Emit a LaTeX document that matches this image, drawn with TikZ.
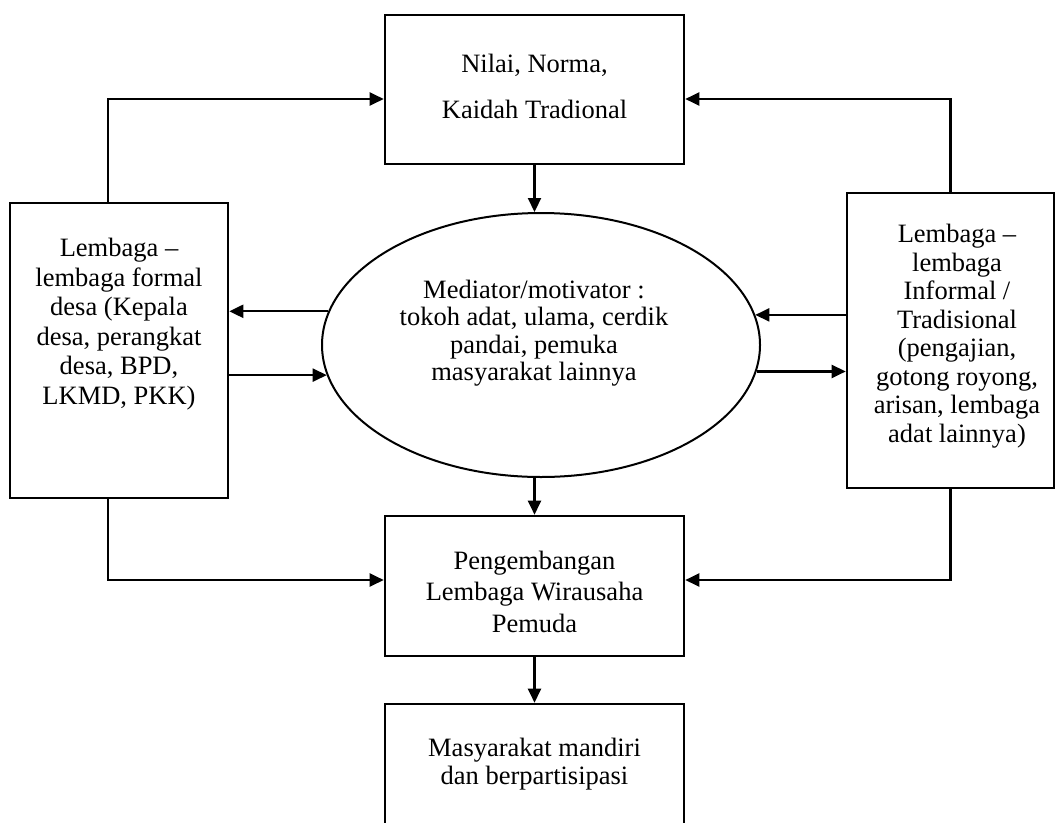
\documentclass[tikz,border=0pt]{standalone}
\usepackage{fontspec}
\setmainfont{Liberation Serif}
\usetikzlibrary{arrows.meta,shapes.geometric}

\begin{document}
\begin{tikzpicture}[x=1pt,y=-1pt,
  box/.style={draw, line width=2.6pt, rectangle, inner sep=0pt},
  oval/.style={draw, line width=2pt, ellipse, inner sep=0pt},
  txt/.style={align=center, inner sep=0pt, font=\fontsize{26.5}{#1}\selectfont},
  txt/.default=29,
  arr/.style={line width=2.2pt, -{Triangle[length=14pt,width=13pt]}},
]
\useasboundingbox (0,0) rectangle (1056,822);
\clip (0,0) rectangle (1056,822);
\fill[white] (0,0) rectangle (1056,822);

% boxes and the central ellipse
\node[box, minimum width=299pt, minimum height=149pt] (T) at (534.5,89.5) {};
\node[box, minimum width=218pt, minimum height=295pt] (L) at (119,350.5) {};
\node[box, minimum width=207pt, minimum height=295pt] (R) at (950.5,340.5) {};
\node[oval, minimum width=438pt, minimum height=264pt] (E) at (541,345) {};
\node[box, minimum width=299pt, minimum height=140pt] (P) at (534.5,586) {};
\node[box, minimum width=299pt, minimum height=121pt] (M) at (534.5,764.5) {};

% texts
\node[txt=46] (Ttext) at (534.5,86) {Nilai, Norma,\\Kaidah Tradional};
\node[txt=29.5] (Ltext) at (119,324) {Lembaga --\\lembaga formal\\desa (Kepala\\desa, perangkat\\desa, BPD,\\LKMD, PKK)};
\node[txt=28.5] (Rtext) at (957,336) {Lembaga --\\lembaga\\Informal /\\Tradisional\\(pengajian,\\gotong royong,\\arisan, lembaga\\adat lainnya)};
\node[txt=27.5] (Etext) at (534,333) {Mediator/motivator :\\tokoh adat, ulama, cerdik\\pandai, pemuka\\masyarakat lainnya};
\node[txt=31.5] (Ptext) at (534.5,591.5) {Pengembangan\\Lembaga Wirausaha\\Pemuda};
\node[txt=28] (Mtext) at (534.5,764) {Masyarakat mandiri\\dan berpartisipasi};

% feedback to the top box
\draw[arr] ([xshift=-11pt]L.north) |- ([yshift=-9.5pt]T.west);
\draw[arr] (R.north) |- ([yshift=-9.5pt]T.east);
\draw[arr] (T.south) -- (T.south |- E.north);

% exchanges with the ellipse
\draw[arr] (E.171.7) -- (E.171.7 -| L.east);
\draw[arr] (E.188.8 -| L.east) -- (E.188.8);
\draw[arr] (E.8.3 -| R.west) -- (E.8.3);
\draw[arr] (E.353.9) -- (E.353.9 -| R.west);

% towards the lower boxes
\draw[arr] (P.north |- E.south) -- (P.north);
\draw[arr] ([xshift=-11pt]L.south) |- ([yshift=6pt]P.west);
\draw[arr] (R.south) |- ([yshift=6pt]P.east);
\draw[arr] (P.south) -- (M.north);
\end{tikzpicture}
\end{document}
